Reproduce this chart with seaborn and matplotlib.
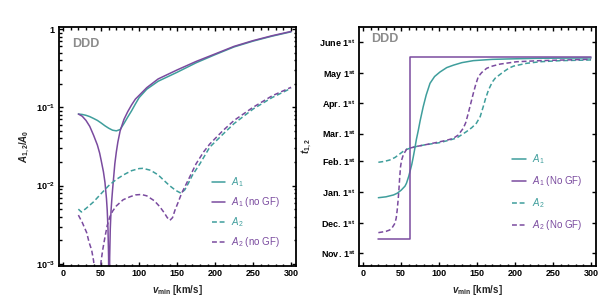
import numpy as np
import pandas as pd
import matplotlib
matplotlib.use("Agg")
import matplotlib.pyplot as plt
from matplotlib.lines import Line2D
from matplotlib.ticker import FixedLocator, FixedFormatter, MultipleLocator, NullFormatter, LogLocator
import seaborn as sns

# ---------------- data ----------------
# Left panel: A_{1,2}/A_0 vs v_min
v_a1 = [20, 25, 30, 35, 40, 45, 50, 55, 60, 65, 70, 75, 80, 85, 90, 95, 100, 110, 125, 150, 175, 200, 225, 250, 275, 300]
amp_a1 = [0.082, 0.081, 0.079, 0.076, 0.072, 0.068, 0.063, 0.058, 0.054, 0.051, 0.050, 0.052, 0.062, 0.075, 0.090,
          0.110, 0.133, 0.170, 0.215, 0.28, 0.37, 0.47, 0.59, 0.70, 0.81, 0.92]

v_a1_nogf = [20, 25, 30, 35, 40, 45, 48, 50, 53, 55, 57, 58, 59, 59.8, 60.5, 61.2, 62, 63, 64, 65, 68, 70, 72, 75, 80,
             85, 90, 95, 100, 110, 125, 150, 175, 200, 225, 250, 275, 300]
amp_a1_nogf = [0.082, 0.077, 0.068, 0.057, 0.044, 0.033, 0.026, 0.021, 0.015, 0.011, 0.0068, 0.0048, 0.0028, 0.0012,
               1e-5, 0.0012, 0.0028, 0.0048, 0.0066, 0.0088, 0.019, 0.027, 0.036, 0.050, 0.070, 0.088, 0.107, 0.127,
               0.142, 0.178, 0.23, 0.30, 0.385, 0.48, 0.60, 0.71, 0.82, 0.93]

v_a2 = [20, 24, 30, 40, 50, 60, 70, 80, 90, 100, 105, 115, 125, 132, 140, 148, 155, 160, 165, 170, 180, 193, 210, 225,
        250, 275, 300]
amp_a2 = [0.0050, 0.0046, 0.0051, 0.0062, 0.0079, 0.0100, 0.0120, 0.0138, 0.0155, 0.0165, 0.0166, 0.0157, 0.0137,
          0.0118, 0.0100, 0.0087, 0.0080, 0.0088, 0.0108, 0.0135, 0.019, 0.031, 0.045, 0.062, 0.095, 0.133, 0.175]

v_a2_nogf = [20, 25, 31, 34, 37.5, 40, 42, 43.5, 45, 46.5, 48, 50, 52, 55, 58, 61.5, 65, 70, 79, 88, 95, 103, 110, 120,
             127, 133, 137, 140.5, 144, 147, 151, 156, 165, 175, 185, 193, 210, 225, 250, 275, 300]
amp_a2_nogf = [0.0042, 0.0034, 0.0025, 0.0019, 0.0015, 0.0011, 0.0007, 0.00035, 1e-6, 0.00035, 0.0007, 0.0011, 0.0015,
               0.0022, 0.0031, 0.0040, 0.0047, 0.0055, 0.0066, 0.0072, 0.0076, 0.0077, 0.0074, 0.0064, 0.0054, 0.0045,
               0.0039, 0.0036, 0.0039, 0.0048, 0.0060, 0.0080, 0.0120, 0.019, 0.027, 0.034, 0.050, 0.068, 0.100, 0.140,
               0.180]

# Right panel: phase t_{1,2} (days after Nov. 1st) vs v_min
tv_a1 = [20, 30, 40, 45, 50, 55, 57, 60, 62, 64, 66, 68, 70, 72.5, 75, 79, 83, 88, 94, 101, 110, 119, 130, 145, 170,
         190, 233, 300]
t_a1 = [55.4, 56.3, 58.2, 60, 63, 67, 70, 77, 83, 89, 96.7, 105, 114, 123, 133, 147, 159, 170.7, 177.5, 182, 186.5,
        189, 191.5, 193.5, 194.8, 195.2, 195.9, 196.2]

tv_a1_nogf = [20, 61, 61, 300]
t_a1_nogf = [13.5, 13.5, 196.8, 196.8]

tv_a2 = [20, 28, 35, 42, 48, 55, 61.5, 70, 80, 90, 100, 114, 123, 130, 136, 143, 149, 154, 158, 161, 165, 170, 174,
         180, 185, 192, 198, 215, 233, 260, 300]
t_a2 = [91.1, 92, 93.4, 96, 99.4, 103.5, 105.2, 107, 108.5, 109.7, 110.8, 113.5, 115.5, 119, 122, 126, 130.4, 137, 147,
        155, 164, 172, 176, 179.5, 182.4, 186, 188, 190.8, 192.4, 193.5, 194.2]

tv_a2_nogf = [20, 30, 35, 38, 41.8, 43.5, 44.8, 46, 47, 48, 49.2, 50.5, 52.7, 55, 57.2, 62, 70, 80, 90, 101, 110,
              118.6, 125, 131.7, 135, 138.3, 141.5, 145, 148, 151.5, 156, 162.6, 170, 180, 202, 233, 300]
t_a2_nogf = [20.2, 21.5, 22.9, 25, 29.6, 35, 43, 53, 63, 75, 86.7, 93, 98.4, 101.5, 104.2, 105.5, 107, 108.5, 110,
             111.8, 113.3, 115.2, 118.5, 125.3, 131, 140.4, 150, 160.6, 169, 177.3, 181.5, 185.8, 188, 190, 192.4,
             193.5, 194.9]

month_days = [0, 30, 61, 92, 120, 151, 181, 212]
month_labels = ["Nov. 1$^{\\rm st}$", "Dec. 1$^{\\rm st}$", "Jan. 1$^{\\rm st}$", "Feb. 1$^{\\rm st}$",
                "Mar. 1$^{\\rm st}$", "Apr. 1$^{\\rm st}$", "May 1$^{\\rm st}$", "June 1$^{\\rm st}$"]
left_legend = ["$\\mathsf{A}_{\\mathtt{1}}$", "$\\mathsf{A}_{\\mathtt{1}}$ (no GF)",
               "$\\mathsf{A}_{\\mathtt{2}}$", "$\\mathsf{A}_{\\mathtt{2}}$ (no GF)"]
right_legend = ["$\\mathsf{A}_{\\mathtt{1}}$", "$\\mathsf{A}_{\\mathtt{1}}$ (No GF)",
                "$\\mathsf{A}_{\\mathtt{2}}$", "$\\mathsf{A}_{\\mathtt{2}}$ (No GF)"]

# ---------------- style ----------------
sns.set_style("ticks")
plt.rcParams["font.family"] = ["Liberation Sans", "DejaVu Sans"]
plt.rcParams["mathtext.fontset"] = "custom"
plt.rcParams["mathtext.rm"] = "Liberation Sans:bold"
plt.rcParams["mathtext.it"] = "Liberation Sans:italic:bold"
plt.rcParams["mathtext.bf"] = "Liberation Sans:bold"
plt.rcParams["mathtext.sf"] = "Liberation Sans:italic"
plt.rcParams["mathtext.tt"] = "Liberation Sans"

TEAL = "#3f9e9c"
PURPLE = "#7a4b9f"
LW = 1.1
DASH = (0, (3.2, 1.8))

fig = plt.figure(figsize=(6.07, 3.02), dpi=100)
axL = fig.add_axes([59 / 607, 1 - 266 / 302, 237 / 607, 239 / 302])
axR = fig.add_axes([359 / 607, 1 - 266 / 302, 237 / 607, 239 / 302])

left_series = [(v_a1, amp_a1, TEAL, "-"), (v_a1_nogf, amp_a1_nogf, PURPLE, "-"),
               (v_a2, amp_a2, TEAL, DASH), (v_a2_nogf, amp_a2_nogf, PURPLE, DASH)]
right_series = [(tv_a1, t_a1, TEAL, "-"), (tv_a1_nogf, t_a1_nogf, PURPLE, "-"),
                (tv_a2, t_a2, TEAL, DASH), (tv_a2_nogf, t_a2_nogf, PURPLE, DASH)]

for ax, series in ((axL, left_series), (axR, right_series)):
    for xs, ys, c, ls in series:
        df = pd.DataFrame({"x": xs, "y": ys})
        sns.lineplot(data=df, x="x", y="y", ax=ax, color=c, linestyle=ls, linewidth=LW,
                     estimator=None, sort=False, legend=False)

# ---------------- left axes ----------------
axL.set_yscale("log")
axL.set_xlim(-5.5, 306.5)
axL.set_ylim(0.94e-3, 1.06)
axL.yaxis.set_major_locator(FixedLocator([1e-3, 1e-2, 1e-1, 1]))
axL.yaxis.set_major_formatter(FixedFormatter(["$\\mathbf{10^{-3}}$", "$\\mathbf{10^{-2}}$",
                                              "$\\mathbf{10^{-1}}$", "$\\mathbf{1}$"]))
axL.yaxis.set_minor_locator(LogLocator(base=10, subs=np.arange(2, 10), numticks=20))
axL.yaxis.set_minor_formatter(NullFormatter())
axL.set_ylabel("$A_{1,2}/A_0$", fontsize=7, labelpad=3, fontweight="bold")

# ---------------- right axes ----------------
axR.set_xlim(-5.5, 306.5)
axR.set_ylim(-13.4, 227.4)
axR.yaxis.set_major_locator(FixedLocator(month_days))
axR.yaxis.set_major_formatter(FixedFormatter(month_labels))
axR.set_ylabel("$t_{1,2}$", fontsize=7, labelpad=4, fontweight="bold")

for ax in (axL, axR):
    ax.xaxis.set_major_locator(MultipleLocator(50))
    ax.xaxis.set_minor_locator(MultipleLocator(10))
    ax.set_xlabel("$v_{\\rm min}$ [km/s]", fontsize=7, labelpad=3, fontweight="bold")
    ax.tick_params(which="both", direction="in", top=True, right=True, width=1.0, colors="black",
                   labelsize=6.5, pad=2.5)
    ax.tick_params(which="major", length=3.2)
    ax.tick_params(which="minor", length=1.8)
    for lab in ax.get_xticklabels() + ax.get_yticklabels():
        lab.set_fontweight("bold")
    for sp in ax.spines.values():
        sp.set_visible(True)
        sp.set_linewidth(1.3)
        sp.set_color("black")

axL.text(0.055, 0.93, "DDD", transform=axL.transAxes, color="#8c8c8c", fontsize=9, fontweight="bold",
         ha="left", va="center")
axR.text(0.05, 0.948, "DDD", transform=axR.transAxes, color="#8c8c8c", fontsize=9, fontweight="bold",
         ha="left", va="center")


def make_legend(ax, labels, anchor, spacing):
    handles = [Line2D([], [], color=TEAL, lw=LW, ls="-"), Line2D([], [], color=PURPLE, lw=LW, ls="-"),
               Line2D([], [], color=TEAL, lw=LW, ls=DASH), Line2D([], [], color=PURPLE, lw=LW, ls=DASH)]
    leg = ax.legend(handles, labels, loc="upper left", bbox_to_anchor=anchor, frameon=False, fontsize=7,
                    handlelength=1.4, handletextpad=0.6, labelspacing=spacing, borderpad=0, borderaxespad=0)
    for txt, c in zip(leg.get_texts(), [TEAL, PURPLE, TEAL, PURPLE]):
        txt.set_color(c)
    return leg


make_legend(axL, left_legend, (0.644, 0.378), 0.62)
make_legend(axR, right_legend, (0.646, 0.475), 0.82)

fig.savefig("out.png", dpi=100)
